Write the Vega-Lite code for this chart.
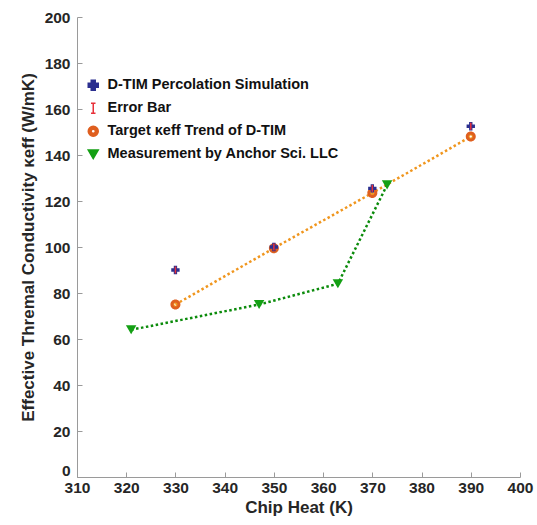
{
  "$schema": "https://vega.github.io/schema/vega-lite/v6.json",
  "width": 443,
  "height": 460,
  "autosize": {"type": "none"},
  "padding": {"left": 77, "top": 17, "right": 17, "bottom": 48},
  "background": "white",
  "config": {
    "view": {"stroke": null},
    "font": "Liberation Sans",
    "axis": {
      "grid": false,
      "domainColor": "#9a9a9a",
      "tickColor": "#9a9a9a",
      "labelFont": "Liberation Sans",
      "labelFontWeight": "bold",
      "labelFontSize": 15.5,
      "labelColor": "#262626",
      "titleFont": "Liberation Sans",
      "titleFontWeight": "bold",
      "titleFontSize": 17,
      "titleColor": "#262626"
    },
    "legend": {
      "labelLimit": 400
    }
  },
  "data": {
    "values": [
      {"series": "D-TIM Percolation Simulation", "x": 330, "y": 90},
      {"series": "D-TIM Percolation Simulation", "x": 350, "y": 100},
      {"series": "D-TIM Percolation Simulation", "x": 370, "y": 125.5},
      {"series": "D-TIM Percolation Simulation", "x": 390, "y": 152.5},
      {"series": "Error Bar", "x": 330, "y": 90, "lo": 88.5, "hi": 91.5},
      {"series": "Error Bar", "x": 350, "y": 100, "lo": 98.5, "hi": 101.5},
      {"series": "Error Bar", "x": 370, "y": 125.5, "lo": 124, "hi": 127},
      {"series": "Error Bar", "x": 390, "y": 152.5, "lo": 151, "hi": 154},
      {"series": "Target κeff Trend of D-TIM", "x": 330, "y": 75},
      {"series": "Target κeff Trend of D-TIM", "x": 350, "y": 99.5},
      {"series": "Target κeff Trend of D-TIM", "x": 370, "y": 123.5},
      {"series": "Target κeff Trend of D-TIM", "x": 390, "y": 148},
      {"series": "Measurement by Anchor Sci. LLC", "x": 321, "y": 64},
      {"series": "Measurement by Anchor Sci. LLC", "x": 347, "y": 75},
      {"series": "Measurement by Anchor Sci. LLC", "x": 363, "y": 84},
      {"series": "Measurement by Anchor Sci. LLC", "x": 373, "y": 127}
    ]
  },
  "encoding": {
    "x": {
      "field": "x", "type": "quantitative",
      "scale": {"domain": [310, 400], "nice": false, "zero": false},
      "axis": {"title": "Chip Heat (K)", "values": [310, 320, 330, 340, 350, 360, 370, 380, 390, 400], "tickSize": -5, "labelPadding": 8, "labelFlush": false, "titlePadding": 4}
    },
    "y": {
      "field": "y", "type": "quantitative",
      "scale": {"domain": [0, 200], "nice": false},
      "axis": {
        "title": "Effective Thremal Conductivity κeff (W/mK)",
        "values": [0, 20, 40, 60, 80, 100, 120, 140, 160, 180, 200],
        "tickSize": -5, "labelPadding": 12, "titlePadding": 7,
        "labelOffset": {"expr": "datum.value === 0 ? -7 : 0"}
      }
    },
    "color": {
      "field": "series", "type": "nominal",
      "scale": {
        "domain": ["D-TIM Percolation Simulation", "Error Bar", "Target κeff Trend of D-TIM", "Measurement by Anchor Sci. LLC"],
        "range": ["#2B2F8F", "#E8303A", "#DF5F1F", "#14A014"]
      },
      "legend": {
        "title": null,
        "orient": "none",
        "legendX": 9,
        "legendY": 61,
        "labelFont": "Liberation Sans",
        "labelFontWeight": "bold",
        "labelFontSize": 14.5,
        "labelColor": "#111111",
        "labelLimit": 400,
        "symbolSize": 100,
        "symbolOpacity": 1,
        "rowPadding": 6,
        "labelOffset": 7
      }
    },
    "shape": {
      "field": "series", "type": "nominal",
      "scale": {
        "domain": ["D-TIM Percolation Simulation", "Error Bar", "Target κeff Trend of D-TIM", "Measurement by Anchor Sci. LLC"],
        "range": [
          "cross",
          "M-0.45,-1H0.45M0,-1V1M-0.45,1H0.45",
          "M-1,0A1,1 0 1,0 1,0A1,1 0 1,0 -1,0Z M-0.42,0A0.42,0.42 0 1,1 0.42,0A0.42,0.42 0 1,1 -0.42,0Z",
          "triangle-down"
        ]
      }
    }
  },
  "layer": [
    {
      "transform": [{"filter": "datum.series === 'Target κeff Trend of D-TIM'"}],
      "mark": {"type": "line", "color": "#F0961E", "strokeWidth": 2.5, "strokeDash": [2.5, 2.5]},
      "encoding": {"color": {"value": "#F0961E"}}
    },
    {
      "transform": [{"filter": "datum.series === 'Measurement by Anchor Sci. LLC'"}],
      "mark": {"type": "line", "color": "#0B8B0B", "strokeWidth": 2.5, "strokeDash": [2.5, 2.5]},
      "encoding": {"color": {"value": "#0B8B0B"}}
    },
    {
      "transform": [{"filter": "datum.series === 'Target κeff Trend of D-TIM'"}],
      "mark": {"type": "point", "filled": true, "size": 100, "opacity": 1}
    },
    {
      "transform": [{"filter": "datum.series === 'Measurement by Anchor Sci. LLC'"}],
      "mark": {"type": "point", "filled": true, "size": 110, "opacity": 1}
    },
    {
      "transform": [{"filter": "datum.series === 'D-TIM Percolation Simulation'"}],
      "mark": {"type": "point", "filled": true, "size": 70, "opacity": 1}
    },
    {
      "transform": [{"filter": "datum.series === 'Error Bar'"}],
      "mark": {"type": "rule", "strokeWidth": 1.5},
      "encoding": {"y": {"field": "lo", "type": "quantitative"}, "y2": {"field": "hi"}}
    }
  ]
}
